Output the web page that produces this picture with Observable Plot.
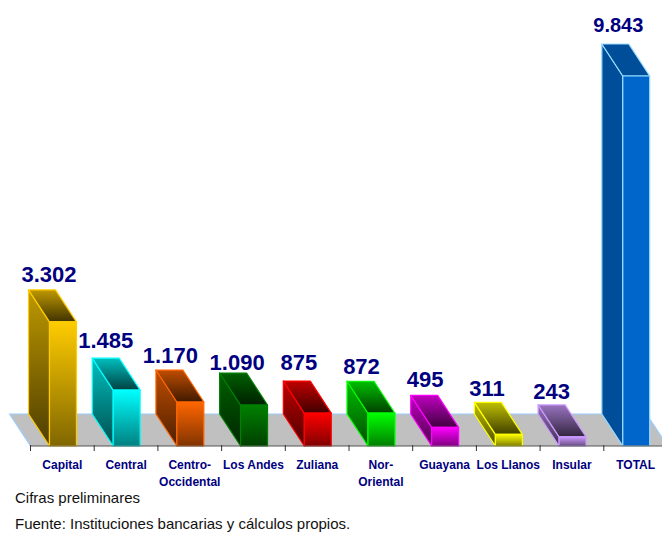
<!DOCTYPE html>
<html>
<head>
<meta charset="utf-8">
<script src="https://cdn.jsdelivr.net/npm/d3@7"></script>
<script src="https://cdn.jsdelivr.net/npm/@observablehq/plot@0.6"></script>
<style>
html,body{margin:0;padding:0;background:#fff;overflow:hidden}
#cap{font:15px "Liberation Sans",Arial,sans-serif;color:#111;padding-left:15px;position:relative;top:-5px}
#cap div{height:26px;line-height:26px}
</style>
</head>
<body>
<div id="chart"></div>
<div id="cap"><div>Cifras preliminares</div><div>Fuente: Instituciones bancarias y cálculos propios.</div></div>
<script>
const categories = ["Capital","Central","Centro-\nOccidental","Los Andes","Zuliana","Nor-\nOriental","Guayana","Los Llanos","Insular","TOTAL"];
const values = [3302,1485,1170,1090,875,872,495,311,243,9843];
const valueLabels = ["3.302","1.485","1.170","1.090","875","872","495","311","243","9.843"];
const faceColors = ["#ffcc00","#00ffff","#ff6600","#008000","#ff0000","#00ff00","#ff00ff","#ffff00","#cc99ff","#0066cc"];
const edgeColors = ["#ffcc00","#00ffff","#ff6600","#008000","#ff0000","#00ff00","#ff00ff","#ffff00","#cc99ff","#99ddff"];

// layout of the oblique projection, in scale units
const barLeft = 0.298, barWidth = 0.423, depthX = 0.329, depthY = 851;
const labelDx = [7,0,1,4,2,1,1,-1,0,3];
const labelDy = [-8,-10,-7,-3,-11,-7,-8,-6,-6,-12];
const labelSize = [22,22,22,22,22,22,22,22,22,20];
const ticks = d3.range(11);

const shade = (c, k) => { const r = d3.rgb(c); return d3.rgb(r.r*k, r.g*k, r.b*k).formatHex(); };
const defs = () => {
  const d = d3.create("svg:defs");
  const grad = (id, a, b) => {
    const g = d.append("linearGradient").attr("id", id).attr("x1",0).attr("y1",0).attr("x2",0).attr("y2",1);
    g.append("stop").attr("offset","0%").attr("stop-color",a);
    g.append("stop").attr("offset","100%").attr("stop-color",b);
  };
  faceColors.forEach((c,i) => {
    const flat = i === values.length - 1;
    grad(`front${i}`, c, flat ? c : shade(c,.5));
    grad(`side${i}`, shade(c, .75), shade(c, flat ? .75 : .3));
    grad(`top${i}`, shade(c, .75), shade(c, flat ? .75 : .25));
  });
  return d.node();
};

const poly = (pts) => [...pts, pts[0]].map(([x,y]) => ({x,y}));
const face = (pts, fill, stroke) => Plot.line(poly(pts), {x:"x", y:"y", fill, stroke, strokeWidth:1.2, curve:"linear"});

const bars = values.map((v,i) => {
  const l = i + barLeft, r = l + barWidth;
  return [
    face([[l-depthX,depthY],[l,0],[l,v],[l-depthX,v+depthY]], `url(#side${i})`, edgeColors[i]),
    face([[l-depthX,v+depthY],[r-depthX,v+depthY],[r,v],[l,v]], `url(#top${i})`, edgeColors[i]),
    face([[l,0],[r,0],[r,v],[l,v]], `url(#front${i})`, edgeColors[i])
  ];
});

const rows = values.map((v,i)=>({i, v, cat:categories[i], lab:valueLabels[i]}));

const plot = Plot.plot({
  width: 662, height: 490,
  marginTop: 0, marginRight: 0, marginBottom: 45, marginLeft: 30,
  x: {type:"linear", domain:[0,10], range:[30,667], axis:null},
  y: {type:"linear", domain:[0,11851], range:[445.5,0], axis:null},
  marks: [
    defs,
    Plot.line(poly([[-depthX,depthY],[0,0],[10,0],[10-depthX,depthY]]), {x:"x",y:"y",fill:"#c0c0c0",stroke:"none"}),
    Plot.line([[0,0],[-depthX,depthY],[10-depthX,depthY],[10,0]].map(([x,y])=>({x,y})), {x:"x",y:"y",stroke:"#99ccff",strokeWidth:1.2}),
    bars,
    Plot.ruleY([0], {x1:0, x2:10, stroke:"#555", strokeWidth:1.2}),
    Plot.axisX({ticks, tickSize:6, tickFormat:()=>"", label:null, stroke:"#333", anchor:"bottom"}),
    Plot.text(rows, {x:d=>d.i+.5, y:0, text:"cat", dy:11, lineAnchor:"top", lineHeight:1.4,
      fontFamily:"Liberation Sans", fontWeight:"bold", fontSize:12, fill:"#000080"}),
    rows.map(d => Plot.text([d], {x:d.i+barLeft-depthX+barWidth/2, y:d.v+depthY, text:"lab", dy:labelDy[d.i], dx:labelDx[d.i], lineAnchor:"bottom",
      fontFamily:"Liberation Sans", fontWeight:"bold", fontSize:labelSize[d.i], fill:"#000080"}))
  ]
});
document.getElementById("chart").appendChild(plot);
</script>
</body>
</html>
